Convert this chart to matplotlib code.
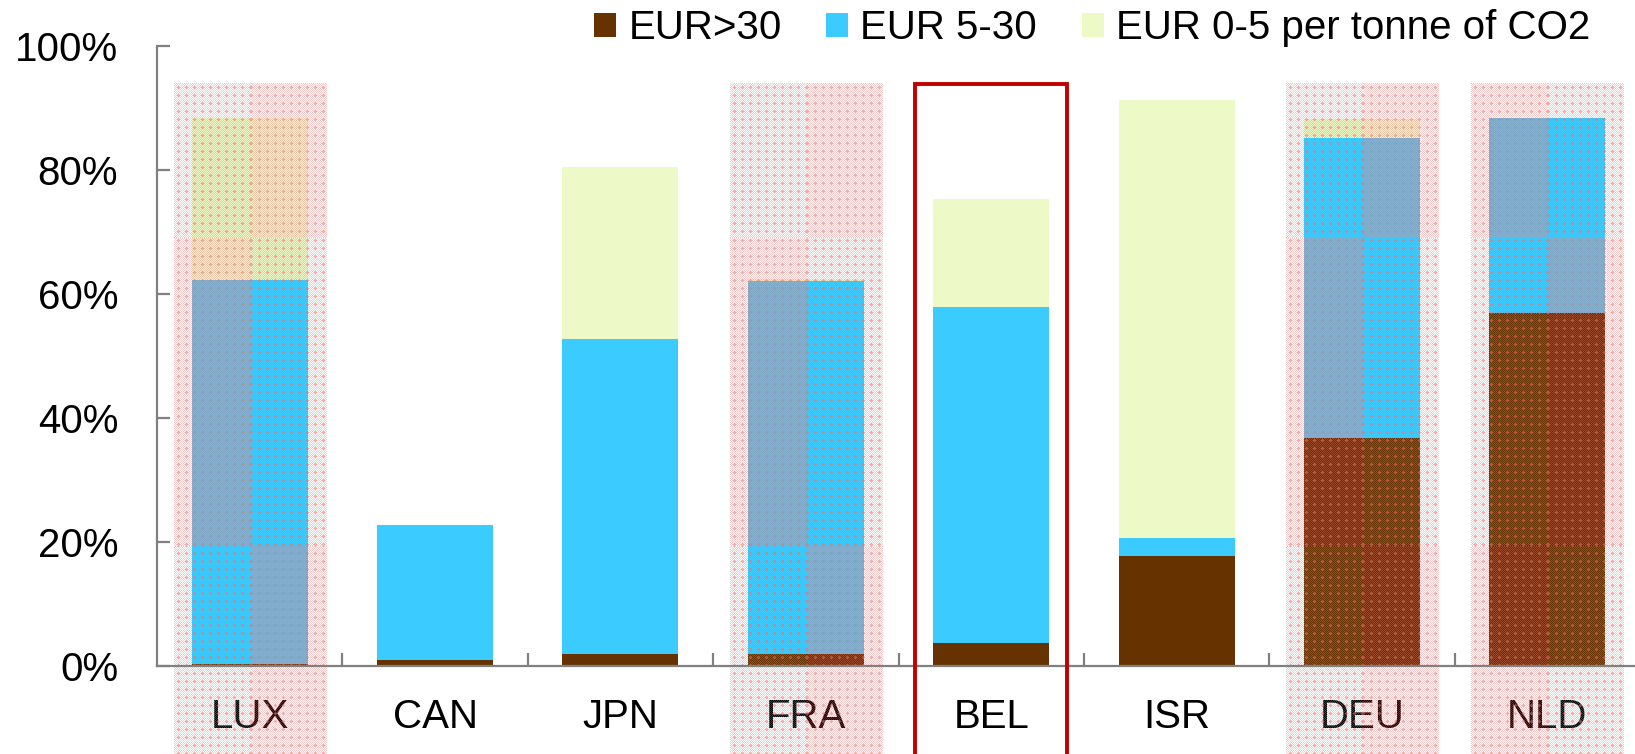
import matplotlib
matplotlib.use("Agg")
import matplotlib.pyplot as plt
import matplotlib.transforms as mtransforms
from matplotlib.patches import Rectangle, Patch
import numpy as np

plt.rcParams['font.family'] = ['Liberation Sans', 'DejaVu Sans']

countries = ["LUX", "CAN", "JPN", "FRA", "BEL", "ISR", "DEU", "NLD"]
eur_above_30 = [0.3, 1.0, 2.0, 2.0, 3.7, 17.7, 36.8, 56.9]
eur_5_30 = [62.0, 21.8, 50.8, 60.1, 54.2, 2.9, 48.3, 31.5]
eur_0_5 = [26.1, 0.0, 27.7, 0.3, 17.4, 70.7, 3.2, 0.0]

highlighted = ["LUX", "FRA", "DEU", "NLD"]
framed = ["BEL"]

series_labels = ["EUR>30", "EUR 5-30", "EUR 0-5 per tonne of CO2"]
series_colors = ["#663300", "#3CCBFF", "#EEF9C8"]

W, H = 1635, 754
fig = plt.figure(figsize=(W / 100, H / 100), dpi=100)
ax = fig.add_axes([157 / W, 88 / H, 1483 / W, 620 / H])

x = np.arange(len(countries))
bottom = np.zeros(len(countries))
for vals, col in zip([eur_above_30, eur_5_30, eur_0_5], series_colors):
    v = np.array(vals) / 100.0
    ax.bar(x, v, width=0.626, bottom=bottom, color=col, linewidth=0, zorder=2)
    bottom += v


def dotted_pattern(h, w):
    """Fine pink dot screen with small crosses, as an RGBA array."""
    img = np.zeros((h, w, 4))
    img[..., 0], img[..., 1], img[..., 2] = 0.93, 0.45, 0.45
    ii, jj = np.mgrid[0:h, 0:w]
    alpha = np.where((ii + jj) % 2 == 0, 0.38, 0.0)
    cross = ((ii % 8 == 4) & (np.abs(jj % 8 - 4) <= 1)) | \
            ((jj % 8 == 4) & (np.abs(ii % 8 - 4) <= 1))
    alpha = np.where(cross, 0.6, alpha)
    img[..., 3] = alpha
    return img


# shaded columns and the framed column, reaching below the axis
trans = mtransforms.blended_transform_factory(ax.transData, ax.transAxes)
y_top = 0.939
y_bot = -0.16
half = 0.41
for i, c in enumerate(countries):
    if c in highlighted:
        im = ax.imshow(dotted_pattern(680, 152), extent=(i - half, i + half, y_bot, y_top),
                       transform=trans, interpolation="nearest", aspect="auto",
                       clip_on=False, zorder=2.2)
    if c in framed:
        ax.add_patch(Rectangle((i - half, y_bot), 2 * half, y_top - y_bot, transform=trans,
                               facecolor="none", edgecolor="#C00000", linewidth=2.8,
                               clip_on=False, zorder=4))

ax.set_xlim(-0.5, len(countries) - 0.5)
ax.set_ylim(0, 1)
ax.set_yticks(np.arange(0, 1.01, 0.2))
ax.set_yticklabels([f"{int(round(t * 100))}%" for t in np.arange(0, 1.01, 0.2)])
ax.set_xticks(x)
ax.set_xticklabels(countries)
ax.set_xticks(x[:-1] + 0.5, minor=True)

for s in ["top", "right"]:
    ax.spines[s].set_visible(False)
for s in ["left", "bottom"]:
    ax.spines[s].set_color("#808080")
    ax.spines[s].set_linewidth(1.6)

ax.tick_params(axis="y", direction="in", length=9.5, width=1.6, color="#808080",
               labelsize=29, pad=28)
ax.tick_params(axis="x", which="major", length=0, labelsize=29, pad=23)
ax.tick_params(axis="x", which="minor", direction="in", length=9.5, width=1.6,
               color="#808080")

handles = [Patch(facecolor=c, edgecolor="none") for c in series_colors]
fig.legend(handles, series_labels, loc="center right", bbox_to_anchor=(1590 / W, 1 - 28 / H),
           ncol=3, frameon=False, fontsize=29, handlelength=0.55, handleheight=0.55,
           handletextpad=0.3, columnspacing=1.1, borderaxespad=0, borderpad=0)

fig.savefig("out.png", dpi=100)
